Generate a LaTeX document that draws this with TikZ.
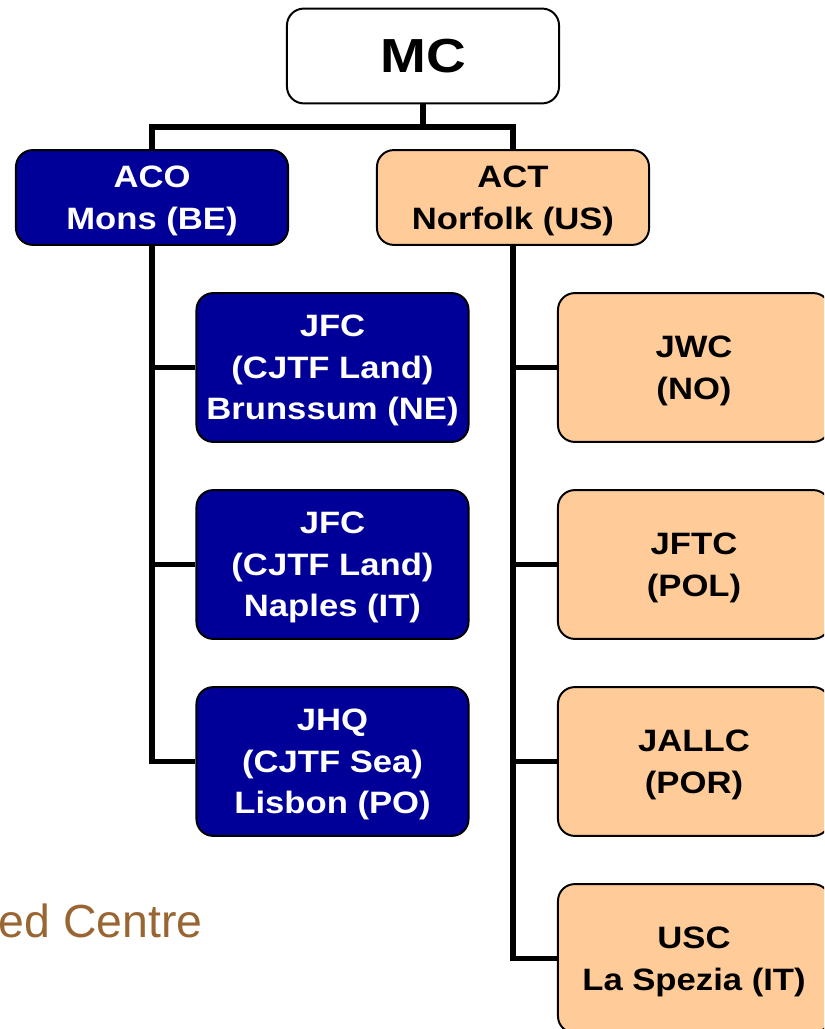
\documentclass[tikz,border=0pt]{standalone}
\usepackage{fontspec}
\setmainfont{Liberation Sans}
\newfontfamily\orgfont[FakeStretch=1.12]{Liberation Sans}
\newfontfamily\mcfont[FakeStretch=1.15]{Liberation Sans}
\usepackage{tikz}

\definecolor{natoblue}{RGB}{0,0,153}
\definecolor{peach}{RGB}{255,204,153}
\definecolor{bronze}{RGB}{153,102,51}

\begin{document}
\begin{tikzpicture}[x = 0.025cm, y = -0.025cm,
  box/.style = {draw = black, line width = 1.4pt, rounded corners = 0.42cm,
    minimum width = 6.8cm, align = center, inner sep = 0pt, text depth = 0pt,
    font = \orgfont\fontsize{22}{29.5}\selectfont\bfseries},
  hq/.style = {box, minimum height = 2.37cm},
  unit/.style = {box, minimum height = 3.72cm},
  acobox/.style = {fill = natoblue, text = white},
  actbox/.style = {fill = peach, text = black},
  link/.style = {line width = 3.6pt}]
\useasboundingbox (0, 0) rectangle (824, 1029);
\clip (0, 0) rectangle (824, 1029);

\node[anchor = base east, inner sep = 0pt, text = bronze, font = \fontsize{33}{38}\selectfont] (centre) at (203, 937) {ed Centre};

\node[hq, fill = white, font = \mcfont\fontsize{34}{36}\selectfont\bfseries] (mc) at (423, 56) {MC};
\node[hq, acobox] (aco) at (152, 197.5) {ACO\\Mons (BE)};
\node[hq, actbox] (act) at (513, 197.5) {ACT\\Norfolk (US)};

\node[unit, acobox] (jfcb) at (332.5, 367.5) {JFC\\(CJTF Land)\\Brunssum (NE)};
\node[unit, acobox] (jfcn) at (332.5, 564.5) {JFC\\(CJTF Land)\\Naples (IT)};
\node[unit, acobox] (jhq) at (332.5, 761.5) {JHQ\\(CJTF Sea)\\Lisbon (PO)};

\node[unit, actbox] (jwc) at (694, 367.5) {JWC\\(NO)};
\node[unit, actbox] (jftc) at (694, 564.5) {JFTC\\(POL)};
\node[unit, actbox] (jallc) at (694, 761.5) {JALLC\\(POR)};
\node[unit, actbox] (usc) at (694, 958.5) {USC\\La Spezia (IT)};

\coordinate (bus) at (423, 127);
\draw[link] (mc.south) -- (bus);
\draw[link] (aco.north) |- (bus) -| (act.north);

\draw[link] (aco.south) |- (jfcb.west);
\draw[link] (aco.south) |- (jfcn.west);
\draw[link] (aco.south) |- (jhq.west);

\draw[link] (act.south) |- (jwc.west);
\draw[link] (act.south) |- (jftc.west);
\draw[link] (act.south) |- (jallc.west);
\draw[link] (act.south) |- (usc.west);

\end{tikzpicture}
\end{document}
